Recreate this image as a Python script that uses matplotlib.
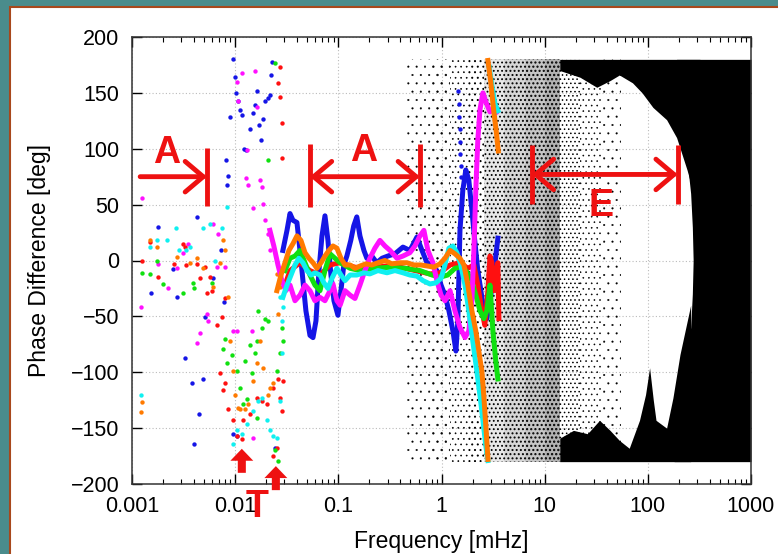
import matplotlib.pyplot as plt
from matplotlib.patches import Rectangle
from matplotlib.ticker import LogLocator, NullFormatter

plt.rcParams['font.family'] = ['Liberation Sans', 'DejaVu Sans']

# ---------------- data (frequency in mHz, phase in deg) ----------------
# scattered points at low frequency
blue_dot_f = [0.00179, 0.00426, 0.00153, 0.00326, 0.00381, 0.00488, 0.00446, 0.00399, 0.00249, 0.00273,
              0.0061, 0.00729, 0.0051, 0.00779, 0.00814, 0.00852, 0.00833, 0.0089, 0.0095, 0.0100,
              0.0102, 0.0106, 0.0111, 0.0116, 0.0122, 0.0127, 0.0139, 0.0149, 0.0156, 0.0163,
              0.0170, 0.0178, 0.0186, 0.0194, 0.0208, 0.0217, 0.0227, 0.0222, 0.0095, 0.0104,
              0.0243, 1.45, 1.47, 1.48, 1.50, 1.52, 1.50, 1.53, 1.55]
blue_dot_deg = [30, 39, -29, -87, -110, -106, -137, -164, -8, -33,
                -16, 9, -51, -37, 90, 76, 68, 128, 180, 164,
                150, 143, 135, 130, 100, 99, 118, 132, 139, 152,
                121, 108, 127, 143, 145, 148, 178, 166, -155, -157,
                -168, 152, 140, 128, 118, 106, 95, 85, 75]

magenta_dot_f = [0.00125, 0.00122, 0.0104, 0.0116, 0.0106, 0.0130, 0.0127, 0.0133, 0.0156, 0.0163,
                 0.0174, 0.0182, 0.0149, 0.0186, 0.0194, 0.0208, 0.0217, 0.0061, 0.0068, 0.00456,
                 0.00426, 0.00797, 0.00666, 0.00533, 0.00545, 0.0095, 0.0104, 0.0146, 0.0149, 0.00179,
                 0.00223, 0.00273, 0.00349, 0.00312]
magenta_dot_deg = [56, -42, 160, 168, 143, 99, 74, 68, 170, 137,
                   72, 66, 47, 51, 36, 24, 9, 33, 24, -65,
                   -74, -6, -6, -48, -54, -63, -63, -63, -159, -3,
                   -25, -7, 15, 7]

red_dot_f = [0.00125, 0.00149, 0.00179, 0.00255, 0.00312, 0.00334, 0.00426, 0.0051, 0.0057, 0.00596,
             0.00666, 0.00712, 0.00797, 0.00762, 0.00852, 0.0095, 0.0104, 0.0116, 0.0119, 0.0139,
             0.0163, 0.0182, 0.0203, 0.0232, 0.0254, 0.0232, 0.0272, 0.0260, 0.0272, 0.0284,
             0.0284, 0.0260, 0.0290, 0.0272, 0.0284, 0.00745, 0.00797, 0.00533, 0.00456, 0.00326]
red_dot_deg = [0, 17, -15, -3, 15, -4, -3, -6, -15, -27,
               -58, -101, -110, -116, -133, -143, -157, -160, -143, -137,
               -123, -126, -128, -114, -168, -175, 173, 159, 146, 123,
               92, -106, -108, -123, -135, -51, -34, -29, -16, 12]

green_dot_f = [0.00125, 0.00149, 0.00175, 0.0020, 0.00312, 0.0039, 0.00399, 0.00596, 0.00797, 0.00762,
               0.00833, 0.0104, 0.0111, 0.0119, 0.0130, 0.0146, 0.0156, 0.0163, 0.0182, 0.0194,
               0.0208, 0.0139, 0.0254, 0.0272, 0.0290, 0.0284, 0.0208, 0.0243, 0.0260, 0.0243,
               0.0163, 0.0166, 0.0125, 0.0093]
green_dot_deg = [-11, -12, 0, -21, -29, -20, -25, -20, -70, -79,
                 -92, -99, -114, -128, -124, -101, -83, -72, -60, -52,
                 -54, -76, -99, -83, -72, -60, 90, 177, -179, -170,
                 -141, -45, -90, -85]

orange_dot_f = [0.00125, 0.00122, 0.00149, 0.00175, 0.00273, 0.00365, 0.00426, 0.00488, 0.0061, 0.00762,
                0.00797, 0.00852, 0.0089, 0.0095, 0.0100, 0.0106, 0.0111, 0.01245, 0.0133, 0.0149,
                0.0163, 0.0174, 0.0186, 0.0208, 0.0232, 0.0217, 0.0260, 0.0272, 0.0254, 0.0071]
orange_dot_deg = [-127, -136, 18, 12, 3, -2, 2, -7, -24, 18,
                  9, -33, -72, -99, -120, -132, -133, -133, -128, -108,
                  -92, -72, -96, -120, -110, -114, -48, -24, -12, -2]

cyan_dot_f = [0.00122, 0.00149, 0.00175, 0.00218, 0.00285, 0.00334, 0.00365, 0.00488, 0.0057, 0.00745,
              0.00833, 0.00637, 0.0095, 0.0104, 0.0116, 0.0130, 0.0149, 0.0166, 0.0182, 0.0203,
              0.0217, 0.0232, 0.0254, 0.0272, 0.0284, 0.0284, 0.0290, 0.0272, 0.00265]
cyan_dot_deg = [-120, 12, 18, 18, 9, 9, 12, 29, 33, 29,
                48, 0, -164, -152, -155, -146, -135, -126, -123, -143,
                -152, -157, -159, -126, -83, -54, -42, -33, 29]

# connected traces
blue_f = [0.0290, 0.0318, 0.034, 0.0363, 0.0397, 0.0425, 0.0454, 0.0485, 0.0531, 0.0568,
          0.0607, 0.0649, 0.0694, 0.0742, 0.0793, 0.0848, 0.0907, 0.0991, 0.106, 0.113,
          0.121, 0.132, 0.141, 0.151, 0.162, 0.177, 0.189, 0.211, 0.236, 0.265,
          0.302, 0.354, 0.423, 0.494, 0.578, 0.647, 0.723, 0.81, 0.902, 0.99,
          1.08, 1.18, 1.29, 1.38, 1.44, 1.51, 1.61, 1.72, 1.84, 1.97,
          2.10, 2.25, 2.41, 2.57, 2.75, 2.95, 3.15, 3.36, 3.52]
blue_deg = [9, 27, 42, 36, 34, 9, -18, -45, -67, -69,
            -54, -9, 22, 40, 18, -13, -36, -49, -27, -4,
            4, 18, 31, 39, 22, 9, 2, 4, -2, 2,
            4, 6, 12, 9, 21, 9, -2, -4, -9, -22,
            -31, -45, -63, -81, -54, 27, 63, 81, 72, 45,
            18, -9, -27, -45, -52, -36, -18, 4, 20]

magenta_f = [0.0217, 0.0237, 0.0260, 0.0284, 0.0310, 0.034, 0.038, 0.0425, 0.0475, 0.0531,
             0.0593, 0.0664, 0.0742, 0.083, 0.0887, 0.0969, 0.104, 0.116, 0.130, 0.145,
             0.162, 0.181, 0.202, 0.226, 0.253, 0.283, 0.317, 0.370, 0.423, 0.494,
             0.553, 0.618, 0.675, 0.738, 0.826, 0.902, 0.99, 1.08, 1.21, 1.35,
             1.51, 1.69, 1.84, 1.97, 2.06, 2.15, 2.25, 2.36, 2.52, 2.69,
             2.95, 3.22, 3.44]
magenta_deg = [27, 13, -4, -18, -27, -22, -36, -31, -22, -27,
               -36, -33, -36, -27, -21, -36, -40, -27, -31, -34,
               -22, -9, 2, 11, 18, 13, 9, 2, 4, 7,
               13, 22, 27, 9, -2, -18, -31, -36, -27, -45,
               -60, -69, -63, -36, 9, 63, 108, 135, 150, 142,
               133, 136, 133]

cyan_f = [0.0290, 0.0318, 0.0348, 0.038, 0.0415, 0.0454, 0.0496, 0.0543, 0.0593, 0.0664,
          0.0725, 0.0793, 0.0867, 0.0969, 0.106, 0.116, 0.130, 0.151, 0.177, 0.202,
          0.242, 0.296, 0.354, 0.423, 0.494, 0.578, 0.661, 0.773, 0.882, 0.99,
          1.08, 1.18, 1.29, 1.41, 1.54, 1.69, 1.84, 2.01, 2.20, 2.36,
          2.52, 2.69, 2.82]
cyan_deg = [-33, -22, -13, -4, 2, -2, -9, -13, -11, -13,
            -20, -25, -16, -7, -13, -18, -13, -13, -11, -12,
            -9, -11, -9, -11, -13, -14, -18, -21, -20, -16,
            -4, 11, 13, 7, -4, -22, -45, -72, -99, -121,
            -143, -166, -179]
cyan_wrap_f = [2.90, 3.10, 3.30, 3.52]
cyan_wrap_deg = [173, 155, 140, 134]

orange_f = [0.0254, 0.0278, 0.0304, 0.0332, 0.0363, 0.0397, 0.0434, 0.0475, 0.0519, 0.0568,
            0.0621, 0.0679, 0.0742, 0.0811, 0.0887, 0.0969, 0.106, 0.116, 0.130, 0.145,
            0.162, 0.185, 0.211, 0.242, 0.283, 0.33, 0.40, 0.462, 0.54, 0.632,
            0.738, 0.845, 0.966, 1.08, 1.21, 1.35, 1.51, 1.65, 1.80, 1.97,
            2.15, 2.30, 2.46, 2.57, 2.69, 2.82]
orange_deg = [-27, -13, -2, 9, 15, 22, 18, 7, 2, -2,
              -7, -2, 4, 9, 13, 11, 2, -4, -4, -7,
              -5, -3, -4, -2, 0, -3, -2, -2, -4, -4,
              -5, -6, -3, 2, 9, 6, 2, -4, -22, -45,
              -63, -81, -99, -121, -148, -178]
orange_wrap_f = [2.82, 3.0, 3.2, 3.4, 3.55]
orange_wrap_deg = [179, 160, 135, 115, 98]

green_f = [0.0304, 0.034, 0.038, 0.0425, 0.0475, 0.0531, 0.0593, 0.0664, 0.0742, 0.083,
           0.0928, 0.104, 0.130, 0.162, 0.226, 0.317, 0.443, 0.618, 0.81, 0.966,
           1.15, 1.35, 1.51, 1.72, 1.93, 2.15, 2.36, 2.57, 2.75, 2.95,
           3.15, 3.36, 3.52]
green_deg = [-9, 2, 4, 9, -2, -13, -22, -27, -9, 6,
             2, -2, -7, -9, -7, -6, -7, -9, -13, -15,
             -13, -7, -6, -9, -16, -31, -45, -52, -45, -22,
             -63, -90, -106]

red_f = [0.0304, 0.034, 0.0425, 0.0531, 0.0664, 0.083, 0.104, 0.145, 0.202, 0.283,
         0.40, 0.553, 0.773, 0.966, 1.21, 1.51, 1.80, 2.06, 2.25, 2.46,
         2.63, 2.82, 2.95, 3.08, 3.22, 3.36, 3.52, 3.6]
red_deg = [-22, -9, -2, -9, -13, -4, -2, -6, -7, -5,
           -6, -9, -12, -11, -4, -2, -7, -4, -22, -45,
           -58, -27, 4, -2, -27, -11, -2, -52]

# black noise: stippled frequency bands (sparse -> dense) and solid black envelope
stipple_edges = [0.45, 0.8, 1.2, 1.8, 2.6, 4.0, 6.5, 10.0, 14.0]
hole_edges = [14.0, 22.0, 35.0, 55.0]
top_f = [14, 22, 32, 43, 53, 71, 88, 112, 152, 190, 240, 320]
top_lo = [170, 164, 155, 161, 166, 159, 150, 137, 126, 110, 81, 40]
bot_f = [14, 19, 26, 34, 43, 53, 66, 83, 95, 104, 113, 120, 152, 175, 205, 260]
bot_hi = [-159, -152, -155, -143, -152, -161, -168, -143, -120, -96, -125, -143, -150, -123, -84, -40]
right_deg = [-180, -150, -120, -90, -60, -30, 0, 30, 60, 90, 120, 150, 180]
right_f = [180, 190, 210, 235, 260, 270, 275, 270, 260, 240, 215, 200, 190]

xticks = [0.001, 0.01, 0.1, 1, 10, 100, 1000]
xticklabels = ['0.001', '0.01', '0.1', '1', '10', '100', '1000']
yticks = [-200, -150, -100, -50, 0, 50, 100, 150, 200]

# ---------------- figure ----------------
W, H = 778, 554
fig = plt.figure(figsize=(W / 100, H / 100), dpi=100)
fig.patch.set_facecolor('#4a8c8c')
fig.patches.append(Rectangle((10 / W, -0.01), 1.0, (H - 7) / H + 0.01, transform=fig.transFigure,
                             facecolor='white', edgecolor='#a8481c', lw=1.5, zorder=-5))

ax = fig.add_axes([132 / W, 70 / H, 619 / W, 447 / H])
ax.set_xscale('log')
ax.set_xlim(1e-3, 1e3)
ax.set_ylim(-200, 200)
ax.set_axisbelow(True)
ax.grid(True, which='major', color='#bbbbbb', linestyle=(0, (1, 2)), lw=0.8)

# black noise (stipple: hatch pattern, background tone, hatch line width)
stipple_style = [('..', 'none', 0.25), ('..', 'none', 0.45), ('...', 'none', 0.45),
                 ('...', 'none', 0.7), ('....', '#e8e8e8', 0.8), ('....', '#d6d6d6', 0.9),
                 ('....', '#c6c6c6', 1.0), ('....', '#b2b2b2', 1.1)]
for lo, hi, (h, fc, hw) in zip(stipple_edges[:-1], stipple_edges[1:], stipple_style):
    with plt.rc_context({'hatch.linewidth': hw}):
        ax.fill_between([lo, hi], -180, 180, facecolor=fc, edgecolor='black',
                        hatch=h, linewidth=0, zorder=1)
hole_style = [('....', 0.6), ('...', 0.4), ('..', 0.25)]
for lo, hi, (h, hw) in zip(hole_edges[:-1], hole_edges[1:], hole_style):
    with plt.rc_context({'hatch.linewidth': hw}):
        ax.fill_between([lo, hi], -180, 180, facecolor='none', edgecolor='black',
                        hatch=h, linewidth=0, zorder=1)
ax.fill_between(top_f, top_lo, 180, color='black', lw=0, zorder=1)
ax.fill_between(bot_f, -180, bot_hi, color='black', lw=0, zorder=1)
ax.fill_betweenx(right_deg, right_f, 1000, color='black', lw=0, zorder=1)

# colored data
cols = {'blue': '#1515e6', 'magenta': '#ff10ff', 'red': '#ff1010',
        'green': '#10e010', 'orange': '#ff7a00', 'cyan': '#10f0f0'}
dots = [(blue_dot_f, blue_dot_deg, 'blue'), (magenta_dot_f, magenta_dot_deg, 'magenta'),
        (red_dot_f, red_dot_deg, 'red'), (green_dot_f, green_dot_deg, 'green'),
        (orange_dot_f, orange_dot_deg, 'orange'), (cyan_dot_f, cyan_dot_deg, 'cyan')]
for fx, dy, c in dots:
    ax.scatter(fx, dy, s=10, color=cols[c], lw=0, zorder=3)

lines = [(blue_f, blue_deg, 'blue'), (red_f, red_deg, 'red'), (green_f, green_deg, 'green'),
         (magenta_f, magenta_deg, 'magenta'), (cyan_f, cyan_deg, 'cyan'),
         (cyan_wrap_f, cyan_wrap_deg, 'cyan'), (orange_f, orange_deg, 'orange'),
         (orange_wrap_f, orange_wrap_deg, 'orange')]
for fx, dy, c in lines:
    ax.plot(fx, dy, color=cols[c], lw=3.6, solid_joinstyle='round', zorder=4)

# axes styling (gnuplot look)
ax.set_xticks(xticks)
ax.set_xticklabels(xticklabels)
ax.xaxis.set_minor_locator(LogLocator(base=10, subs=range(2, 10)))
ax.xaxis.set_minor_formatter(NullFormatter())
ax.set_yticks(yticks)
ax.tick_params(which='both', direction='in', top=True, right=True, labelsize=15.5, colors='black')
ax.tick_params(which='major', length=7, width=1, pad=9)
ax.tick_params(which='minor', length=3.5, width=0.8)
for s in ax.spines.values():
    s.set_color('#333333')
    s.set_linewidth(1.1)
ax.set_xlabel('Frequency [mHz]', fontsize=16.5, labelpad=9)
ax.set_ylabel('Phase Difference [deg]', fontsize=16.5, labelpad=14)

# red annotations
red = '#ee1111'
head = '->,head_length=0.65,head_width=0.55'
both = '<->,head_length=0.65,head_width=0.55'
ax.annotate('', xy=(0.00533, 75), xytext=(0.00120, 75),
            arrowprops=dict(arrowstyle=head, lw=3.5, color=red, shrinkA=0, shrinkB=0, mutation_scale=20),
            zorder=6)
ax.plot([0.00533, 0.00533], [49, 101], color=red, lw=3.5, solid_capstyle='butt', zorder=6)
ax.text(0.00218, 96, 'A', fontsize=27, fontweight='bold', color=red, ha='center', va='center', zorder=6)

ax.annotate('', xy=(0.053, 75), xytext=(0.618, 75),
            arrowprops=dict(arrowstyle=both, lw=3.5, color=red, shrinkA=0, shrinkB=0, mutation_scale=20),
            zorder=6)
for xb in (0.053, 0.618):
    ax.plot([xb, xb], [48, 104], color=red, lw=3.5, solid_capstyle='butt', zorder=6)
ax.text(0.177, 98, 'A', fontsize=27, fontweight='bold', color=red, ha='center', va='center', zorder=6)

ax.annotate('', xy=(7.5, 77), xytext=(195, 77),
            arrowprops=dict(arrowstyle=both, lw=3.5, color=red, shrinkA=0, shrinkB=0, mutation_scale=20),
            zorder=6)
for xb in (7.5, 195):
    ax.plot([xb, xb], [51, 103], color=red, lw=3.5, solid_capstyle='butt', zorder=6)
ax.text(35.5, 49, 'E', fontsize=27, fontweight='bold', color=red, ha='center', va='center', zorder=6)

up = 'simple,head_length=0.86,head_width=1.65,tail_width=0.58'
for xa, tip, tail in ((0.0116, -168.5, -190), (0.0248, -184, -205.5)):
    ax.annotate('', xy=(xa, tip), xytext=(xa, tail), annotation_clip=False,
                arrowprops=dict(arrowstyle=up, color=red, lw=0, shrinkA=0, shrinkB=0, mutation_scale=10),
                zorder=6)
ax.text(0.0162, -229.5, 'T', fontsize=27, fontweight='bold', color=red, ha='center', va='baseline',
        clip_on=False, zorder=6)

fig.savefig('out.png', dpi=100, facecolor=fig.get_facecolor())
